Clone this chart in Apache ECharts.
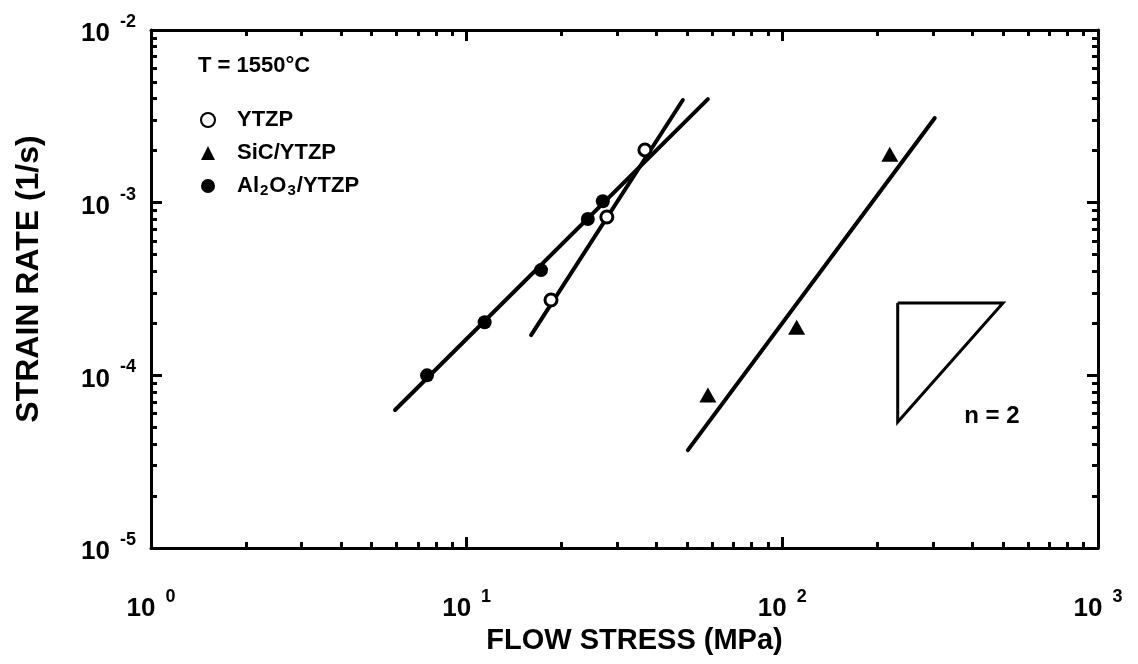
<!DOCTYPE html>
<html><head><meta charset="utf-8">
<script src="https://cdn.jsdelivr.net/npm/echarts@6/dist/echarts.min.js"></script>
<style>html,body{margin:0;padding:0;background:#fff}#c{width:1138px;height:664px}</style>
</head><body><div id="c"></div>
<script>
// ---- data ----
const xMajorTicks = [1, 10, 100, 1000];
const xMinorTicks = [2,3,4,5,6,7,8,9,20,30,40,50,60,70,80,90,200,300,400,500,600,700,800,900];
const xTickExponents = ['0', '1', '2', '3'];
const yMajorTicks = [1e-5, 1e-4, 1e-3, 1e-2];
const yMinorTicks = [2e-5,3e-5,4e-5,5e-5,6e-5,7e-5,8e-5,9e-5,2e-4,3e-4,4e-4,5e-4,6e-4,7e-4,8e-4,9e-4,2e-3,3e-3,4e-3,5e-3,6e-3,7e-3,8e-3,9e-3];
const yTickExponents = ['-5', '-4', '-3', '-2'];

const ytzpStress = [18.5, 27.8, 36.7];
const ytzpRate   = [2.73e-4, 8.26e-4, 2.02e-3];
const sicStress  = [58.1, 111, 219];
const sicRate    = [7.69e-5, 1.90e-4, 1.91e-3];
const aluStress  = [7.49, 11.4, 17.2, 24.2, 27.0];
const aluRate    = [1.0e-4, 2.03e-4, 4.07e-4, 8.04e-4, 1.02e-3];

const ytzpFitStress = [16.0, 48.4];
const ytzpFitRate   = [1.71e-4, 3.93e-3];
const aluFitStress  = [5.93, 58.1];
const aluFitRate    = [6.30e-5, 3.98e-3];
const sicFitStress  = [50.2, 304];
const sicFitRate    = [3.69e-5, 3.09e-3];

const slopeTriStress = [232, 500, 232, 232];
const slopeTriRate   = [2.62e-4, 2.62e-4, 5.37e-5, 2.62e-4];
const slopeLabel = { text: 'n = 2', stress: 461, rate: 5.8e-5 };
const tempLabel = 'T = 1550°C';
const seriesNames = ['YTZP', 'SiC/YTZP', 'Al2O3/YTZP'];

const zip = (a, b) => a.map((v, i) => [v, b[i]]);
const FONT = '"Liberation Sans", Arial, Helvetica, sans-serif';

function expIndex(ticks, v) {
  return ticks.findIndex(t => Math.abs(Math.log10(t) - Math.log10(v)) < 1e-6);
}
const labelRich = {
  b: { fontFamily: FONT, fontWeight: 'bold', fontSize: 26, color: '#000', padding: [8, 0, 0, 0] },
  s: { fontFamily: FONT, fontWeight: 'bold', fontSize: 18, color: '#000', verticalAlign: 'top', padding: [0, 0, 0, 10] }
};

function axisPair(dim, position, majors, minors, withLabels, exps) {
  const isX = dim === 'x';
  const base = {
    type: 'log', logBase: 10, position: position,
    min: isX ? 1 : 1e-5, max: isX ? 1000 : 1e-2,
    splitLine: { show: false }, minorTick: { show: false },
    axisLine: { show: true, onZero: false, lineStyle: { color: '#000', width: 3 } }
  };
  const major = Object.assign({}, base, {
    axisTick: { show: true, inside: true, length: 11, customValues: majors, lineStyle: { color: '#000', width: 3 } },
    axisLabel: withLabels ? {
      show: true, customValues: majors, margin: isX ? 40 : 15,
      formatter: function (v) { const i = expIndex(majors, v); return '{b|10}{s|' + exps[i] + '}'; },
      rich: labelRich
    } : { show: false }
  });
  const minor = Object.assign({}, base, {
    axisLine: { show: false, onZero: false },
    axisTick: { show: true, inside: true, length: 6, customValues: minors, lineStyle: { color: '#000', width: 3 } },
    axisLabel: { show: false }
  });
  return [major, minor];
}

const xAxes = axisPair('x', 'bottom', xMajorTicks, xMinorTicks, true, xTickExponents)
  .concat(axisPair('x', 'top', xMajorTicks, xMinorTicks, false));
const yAxes = axisPair('y', 'left', yMajorTicks, yMinorTicks, true, yTickExponents)
  .concat(axisPair('y', 'right', yMajorTicks, yMinorTicks, false));
xAxes[0].name = 'FLOW STRESS (MPa)';
xAxes[0].nameLocation = 'middle';
xAxes[0].nameGap = 78;
xAxes[0].nameTextStyle = { fontFamily: FONT, fontWeight: 'bold', fontSize: 29, color: '#000', padding: [0, 0, 0, 20] };
yAxes[0].name = 'STRAIN RATE (1/s)';
yAxes[0].nameLocation = 'middle';
yAxes[0].nameGap = 106;
yAxes[0].nameTextStyle = { fontFamily: FONT, fontWeight: 'bold', fontSize: 32, color: '#000', padding: [0, 0, 0, 20] };

const fitLine = (s, r) => ({
  type: 'line', data: zip(s, r), symbol: 'none', z: 2, silent: true,
  lineStyle: { color: '#000', width: 4, cap: 'round' }
});

const option = {
  animation: false,
  backgroundColor: '#fff',
  grid: { left: 151, right: 40, top: 30, bottom: 116 },
  title: { text: tempLabel, left: 193, top: 50, textStyle: { fontFamily: FONT, fontWeight: 'bold', fontSize: 22, color: '#000' } },
  legend: {
    orient: 'vertical', left: 195, top: 104, itemWidth: 14, itemHeight: 14, itemGap: 11,
    data: seriesNames,
    formatter: function (name) {
      if (name === 'Al2O3/YTZP') return '{n|Al}{sub|2}{m|O}{sub|3}{m|/YTZP}';
      return '{n|' + name + '}';
    },
    textStyle: {
      fontFamily: FONT, fontWeight: 'bold', fontSize: 22, color: '#000',
      rich: {
        n: { fontFamily: FONT, fontWeight: 'bold', fontSize: 22, color: '#000', padding: [0, 0, 0, 17] },
        m: { fontFamily: FONT, fontWeight: 'bold', fontSize: 22, color: '#000' },
        sub: { fontFamily: FONT, fontWeight: 'bold', fontSize: 15, color: '#000', verticalAlign: 'bottom', padding: [10, 1, 0, 1] }
      }
    }
  },
  xAxis: xAxes,
  yAxis: yAxes,
  series: [
    fitLine(ytzpFitStress, ytzpFitRate),
    fitLine(aluFitStress, aluFitRate),
    fitLine(sicFitStress, sicFitRate),
    { type: 'line', data: zip(slopeTriStress, slopeTriRate), symbol: 'none', z: 2, silent: true,
      lineStyle: { color: '#000', width: 3, join: 'miter' },
      markPoint: {
        silent: true, symbol: 'rect', symbolSize: 1, itemStyle: { color: 'rgba(0,0,0,0)' },
        data: [{ coord: [slopeLabel.stress, slopeLabel.rate] }],
        label: { show: true, position: 'inside', formatter: slopeLabel.text, fontFamily: FONT, fontWeight: 'bold', fontSize: 24, color: '#000' }
      } },
    { name: seriesNames[0], type: 'scatter', data: zip(ytzpStress, ytzpRate), symbol: 'circle', symbolSize: 12, z: 5,
      itemStyle: { color: '#fff', borderColor: '#000', borderWidth: 3, opacity: 1 } },
    { name: seriesNames[1], type: 'scatter', data: zip(sicStress, sicRate), symbol: 'triangle', symbolSize: [17, 15], z: 5,
      itemStyle: { color: '#000', opacity: 1 } },
    { name: seriesNames[2], type: 'scatter', data: zip(aluStress, aluRate), symbol: 'circle', symbolSize: 14, z: 5,
      itemStyle: { color: '#000', opacity: 1 } }
  ]
};
echarts.init(document.getElementById('c'), null, { renderer: 'canvas' }).setOption(option);
</script></body></html>
